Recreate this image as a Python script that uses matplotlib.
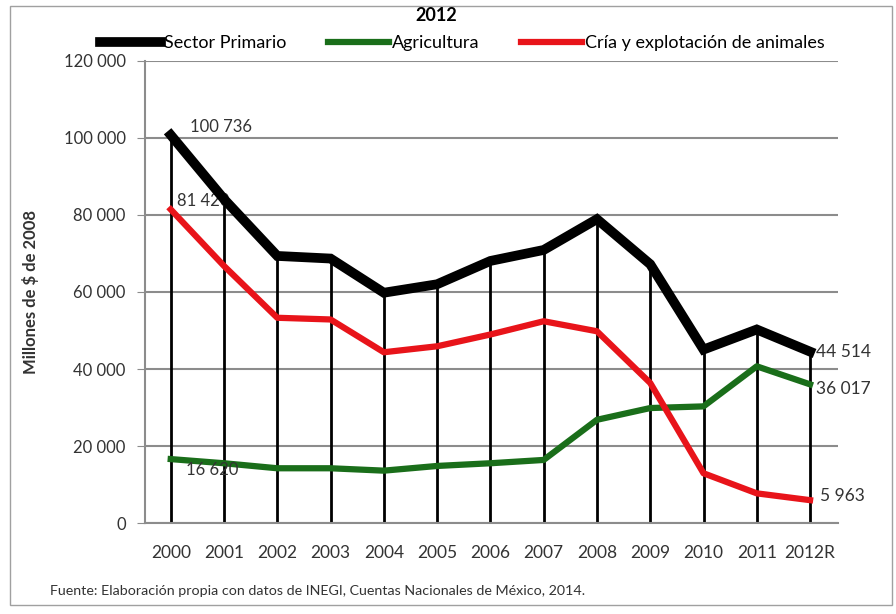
import numpy as np
import matplotlib.pyplot as plt
from matplotlib.patches import Rectangle
from matplotlib.ticker import FuncFormatter

plt.rcParams['font.family'] = ['Lato', 'DejaVu Sans']

# Datos (millones de $ de 2008)
anios = ['2000', '2001', '2002', '2003', '2004', '2005', '2006',
         '2007', '2008', '2009', '2010', '2011', '2012R']
primario = [100736, 84100, 69350, 68670, 59800, 62000, 68050,
            70900, 78900, 67200, 45050, 50260, 44514]
agricultura = [16620, 15540, 14240, 14240, 13620, 14840, 15540,
               16400, 26820, 29870, 30300, 40700, 36017]
cria = [81420, 66750, 53300, 52860, 44350, 45900, 48960,
        52400, 49800, 36380, 12940, 7730, 5963]

x = np.arange(len(anios))

fig = plt.figure(figsize=(8.96, 6.14), dpi=100)
ax = fig.add_axes([0.162, 0.148, 0.773, 0.753])

# marco exterior
fig.patches.append(Rectangle((0.011, 0.015), 0.985, 0.975, transform=fig.transFigure,
                             fill=False, edgecolor='#a0a0a0', linewidth=1))

ax.grid(axis='y', color='#8c8c8c', linewidth=1.5)
ax.set_axisbelow(True)

# lineas de caida
ax.vlines(x, 0, primario, color='black', linewidth=2, zorder=2)

ax.plot(x, primario, color='black', linewidth=7, solid_joinstyle='miter', label='Sector Primario', zorder=4)
ax.plot(x, agricultura, color='#1a6e1a', linewidth=4.5, label='Agricultura', zorder=3)
ax.plot(x, cria, color='#e8141a', linewidth=4.5, label='Cría y explotación de animales', zorder=3)

fmt = lambda v: f'{v:,.0f}'.replace(',', ' ')
tc = '#333333'
fs = 12
ax.text(x[0] + 0.37, primario[0], fmt(primario[0]), fontsize=fs, color=tc, va='bottom', ha='left')
ax.text(x[0] + 0.12, cria[0], fmt(cria[0]), fontsize=fs, color=tc, va='bottom', ha='left')
ax.text(x[0] + 0.28, agricultura[0] - 800, fmt(agricultura[0]), fontsize=fs, color=tc, va='top', ha='left')
ax.text(x[-1] + 0.12, primario[-1], fmt(primario[-1]), fontsize=12.5, color=tc, va='center', ha='left', clip_on=False)
ax.text(x[-1] + 0.12, agricultura[-1] - 1200, fmt(agricultura[-1]), fontsize=12.5, color=tc, va='center', ha='left', clip_on=False)
ax.text(x[-1] + 0.18, cria[-1] + 1200, fmt(cria[-1]), fontsize=12.5, color=tc, va='center', ha='left', clip_on=False)

ax.set_xlim(-0.48, 12.52)
ax.set_ylim(0, 120000)
ax.set_yticks(np.arange(0, 120001, 20000))
ax.yaxis.set_major_formatter(FuncFormatter(lambda v, p: fmt(v)))
ax.set_xticks(x)
ax.set_xticklabels(anios)
ax.tick_params(axis='y', length=6, color='#8c8c8c', labelsize=12, labelcolor=tc, pad=8)
ax.tick_params(axis='x', length=0, labelsize=12.5, labelcolor=tc, pad=16)
for s in ['top', 'right']:
    ax.spines[s].set_visible(False)
for s in ['left', 'bottom']:
    ax.spines[s].set_color('#8c8c8c')
    ax.spines[s].set_linewidth(1.5)

ax.set_ylabel('Millones de $ de 2008', fontsize=12, fontweight='bold', color=tc, labelpad=18)

fig.text(0.487, 0.975, '2012', fontsize=13, fontweight='bold', ha='center', va='center')
fig.legend(loc='center', bbox_to_anchor=(0.516, 0.93), ncol=3, frameon=False,
           handlelength=3.4, handletextpad=0.15, columnspacing=2.3, fontsize=13)
fig.text(0.056, 0.037, 'Fuente: Elaboración propia con datos de INEGI, Cuentas Nacionales de México, 2014.',
         fontsize=10.3, color=tc, ha='left', va='center')

fig.savefig('out.png', dpi=100)
